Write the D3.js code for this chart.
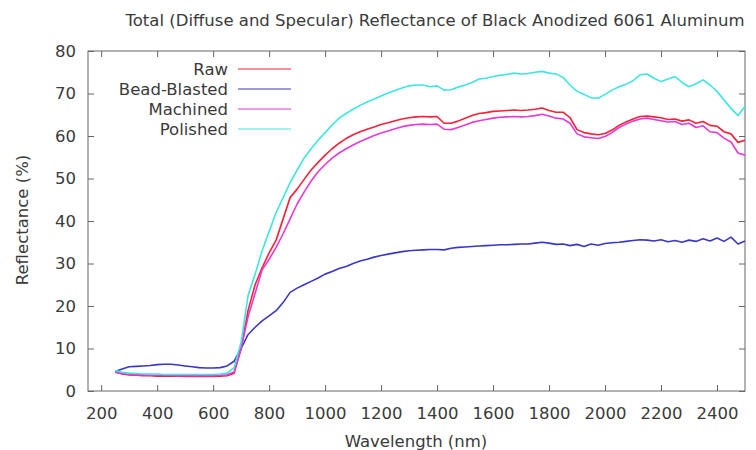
<!DOCTYPE html>
<html>
<head>
<meta charset="utf-8">
<script src="https://cdn.jsdelivr.net/npm/d3@7"></script>
<style>
  html, body { margin: 0; padding: 0; background: #fff; }
  svg { display: block; font-family: "DejaVu Sans", sans-serif; }
</style>
</head>
<body>
<svg id="chart" width="756" height="450"></svg>
<script>
const wavelengths = [250,275,300,325,350,375,400,425,450,475,500,525,550,575,600,625,650,675,700,725,750,775,800,825,850,875,900,925,950,975,1000,1025,1050,1075,1100,1125,1150,1175,1200,1225,1250,1275,1300,1325,1350,1375,1400,1425,1450,1475,1500,1525,1550,1575,1600,1625,1650,1675,1700,1725,1750,1775,1800,1825,1850,1875,1900,1925,1950,1975,2000,2025,2050,2075,2100,2125,2150,2175,2200,2225,2250,2275,2300,2325,2350,2375,2400,2425,2450,2475,2500];

const rawValues = [4.5,4.0,3.8,3.7,3.6,3.6,3.5,3.5,3.5,3.5,3.4,3.4,3.4,3.4,3.4,3.5,3.6,4.2,10.0,19.0,25.0,29.0,32.5,35.5,40.5,45.5,47.5,49.8,52.0,53.8,55.5,57.0,58.3,59.4,60.3,61.0,61.6,62.1,62.7,63.1,63.6,64.0,64.3,64.5,64.6,64.5,64.6,63.0,63.0,63.5,64.2,64.8,65.3,65.5,65.8,65.9,66.0,66.1,66.0,66.1,66.3,66.6,66.0,65.6,65.6,64.3,61.5,60.8,60.5,60.3,60.6,61.4,62.5,63.3,64.0,64.6,64.7,64.5,64.3,63.9,64.0,63.5,63.8,63.0,63.4,62.5,62.3,61.0,60.5,58.5,59.0];

const beadValues = [4.6,5.2,5.7,5.8,5.9,6.0,6.2,6.3,6.3,6.1,5.9,5.7,5.5,5.4,5.4,5.5,5.9,7.0,10.0,13.3,15.0,16.5,17.7,18.9,20.8,23.2,24.2,25.0,25.8,26.6,27.5,28.1,28.8,29.3,30.0,30.6,31.0,31.5,31.9,32.2,32.5,32.8,33.0,33.1,33.2,33.3,33.3,33.2,33.6,33.8,33.9,34.0,34.1,34.2,34.3,34.4,34.4,34.5,34.6,34.6,34.8,35.0,34.8,34.5,34.6,34.2,34.5,34.0,34.6,34.3,34.7,34.9,35.0,35.2,35.4,35.6,35.5,35.3,35.6,35.1,35.4,35.0,35.5,35.2,35.8,35.3,36.0,35.2,36.2,34.6,35.3];

const machinedValues = [4.4,4.1,3.9,3.8,3.8,3.7,3.7,3.7,3.7,3.6,3.6,3.6,3.6,3.6,3.6,3.7,3.8,4.5,10.0,17.5,23.0,28.5,31.0,33.8,37.0,40.5,44.0,46.8,49.4,51.6,53.3,54.8,56.0,57.0,57.9,58.7,59.4,60.1,60.7,61.2,61.7,62.2,62.5,62.7,62.8,62.7,62.8,61.6,61.5,62.0,62.6,63.2,63.6,63.9,64.2,64.4,64.5,64.6,64.5,64.6,64.8,65.1,64.7,64.2,64.0,63.0,60.5,59.8,59.6,59.4,59.9,60.8,62.0,62.8,63.5,64.0,64.2,63.9,63.6,63.3,63.4,62.7,63.0,62.0,62.4,61.0,60.8,59.5,58.6,56.0,55.5];

const polishedValues = [4.8,4.4,4.2,4.1,4.0,4.0,4.0,3.9,3.9,3.9,3.9,3.9,3.9,3.9,3.9,4.0,4.2,5.5,11.5,22.5,27.5,33.0,37.5,42.0,45.5,49.0,52.0,54.8,57.0,59.0,60.8,62.6,64.2,65.3,66.3,67.2,68.0,68.7,69.4,70.1,70.7,71.3,71.8,72.0,72.0,71.6,71.8,70.8,70.9,71.5,72.0,72.6,73.4,73.6,74.0,74.3,74.5,74.8,74.6,74.7,75.0,75.2,74.8,74.6,73.8,72.0,70.5,69.8,69.0,68.9,69.8,70.8,71.6,72.2,73.0,74.4,74.6,73.6,72.8,73.4,74.0,72.6,71.6,72.3,73.2,72.0,70.5,68.5,66.5,64.8,67.0];

const seriesNames = ["Raw", "Bead-Blasted", "Machined", "Polished"];
const seriesColors = ["#f5203a", "#3a36c8", "#e43ad6", "#3de6df"];
const seriesValues = [rawValues, beadValues, machinedValues, polishedValues];

const xTicks = [200,400,600,800,1000,1200,1400,1600,1800,2000,2200,2400];
const yTicks = [0,10,20,30,40,50,60,70,80];

const titleText = "Total (Diffuse and Specular) Reflectance of Black Anodized 6061 Aluminum";
const xLabel = "Wavelength (nm)";
const yLabel = "Reflectance (%)";

const svg = d3.select("#chart");
const pL = 88, pR = 745, pT = 51, pB = 391;
const fontSize = "16.5px";

const x = d3.scaleLinear().domain([153, 2500]).range([pL, pR]);
const y = d3.scaleLinear().domain([0, 80]).range([pB, pT]);

const textColor = "#3a3a3a";
const axisColor = "#666";
const fmt = d3.format("d");

const gx = svg.append("g").attr("transform", `translate(0,${pB})`)
  .call(d3.axisBottom(x).tickValues(xTicks).tickFormat(fmt).tickSize(-6).tickPadding(16).tickSizeOuter(0));
const gxTop = svg.append("g").attr("transform", `translate(0,${pT})`)
  .call(d3.axisTop(x).tickValues(xTicks).tickSize(-6).tickFormat("").tickSizeOuter(0));
const gy = svg.append("g").attr("transform", `translate(${pL},0)`)
  .call(d3.axisLeft(y).tickValues(yTicks).tickFormat(fmt).tickSize(-6).tickPadding(12).tickSizeOuter(0));
const gyR = svg.append("g").attr("transform", `translate(${pR},0)`)
  .call(d3.axisRight(y).tickValues(yTicks).tickSize(-6).tickFormat("").tickSizeOuter(0));

[gx, gxTop, gy, gyR].forEach(g => {
  g.select(".domain").remove();
  g.selectAll(".tick line").attr("stroke", axisColor);
  g.selectAll(".tick text").attr("fill", textColor).style("font-size", fontSize)
    .style("font-family", "DejaVu Sans, sans-serif");
});

svg.append("rect")
  .attr("x", pL).attr("y", pT)
  .attr("width", pR - pL).attr("height", pB - pT)
  .attr("fill", "none").attr("stroke", axisColor).attr("stroke-width", 1);

const line = d3.line()
  .x((d, i) => x(wavelengths[i]))
  .y(d => y(d));

seriesValues.forEach((vals, k) => {
  svg.append("path")
    .datum(vals)
    .attr("fill", "none")
    .attr("stroke", seriesColors[k])
    .attr("stroke-width", 1.6)
    .attr("stroke-linejoin", "round")
    .attr("d", line);
});

seriesNames.forEach((name, k) => {
  const yy = 69 + k * 20;
  svg.append("text")
    .attr("x", 228).attr("y", yy).attr("dy", "0.35em")
    .attr("text-anchor", "end")
    .attr("fill", textColor)
    .style("font-size", fontSize)
    .text(name);
  svg.append("line")
    .attr("x1", 238).attr("x2", 291)
    .attr("y1", yy).attr("y2", yy)
    .attr("stroke", seriesColors[k]).attr("stroke-width", 1.2);
});

svg.append("text")
  .attr("x", 435).attr("y", 26)
  .attr("text-anchor", "middle")
  .attr("fill", textColor)
  .style("font-size", fontSize)
  .text(titleText);

svg.append("text")
  .attr("x", 416).attr("y", 447)
  .attr("text-anchor", "middle")
  .attr("fill", textColor)
  .style("font-size", fontSize)
  .text(xLabel);

svg.append("text")
  .attr("transform", "translate(28,220) rotate(-90)")
  .attr("text-anchor", "middle")
  .attr("fill", textColor)
  .style("font-size", fontSize)
  .text(yLabel);
</script>
</body>
</html>
